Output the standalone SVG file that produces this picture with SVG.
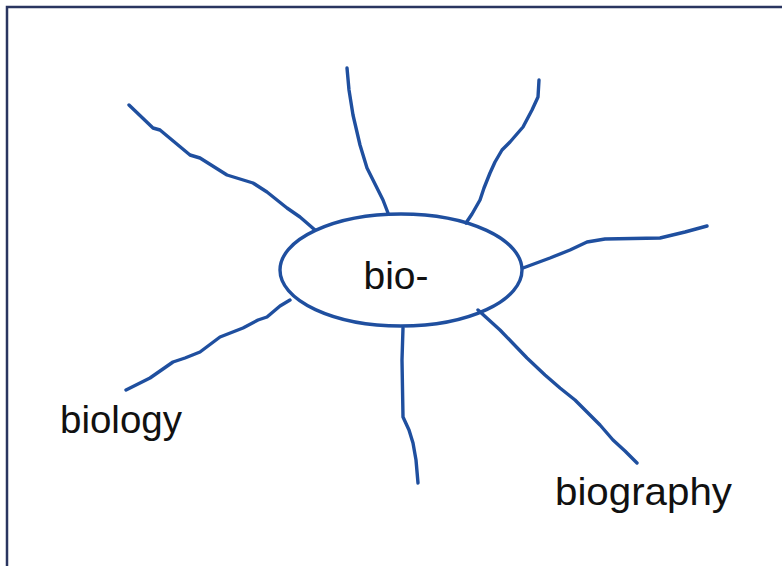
<svg xmlns="http://www.w3.org/2000/svg" width="782" height="566" viewBox="0 0 782 566">
  <style>
    .ln { fill: none; stroke: #1f4f9f; stroke-width: 3.4; stroke-linecap: round; stroke-linejoin: round; }
    .lbl { font-family: "Liberation Sans", "DejaVu Sans", sans-serif; font-size: 39px; fill: #111; }
  </style>
  <rect x="0" y="0" width="782" height="566" fill="#ffffff"/>
  <path d="M7,566 V7 H782" fill="none" stroke="#2a3560" stroke-width="2.5"/>
  <g id="connectors">
    <path class="ln" d="M129,105 L153,128 L160,130 L190,155 L200,158 L227,175 L253,183 L267,192 L287,208 L300,217 L315,230"/>
    <path class="ln" d="M347,68 L349,90 L353,115 L360,145 L367,168 L376,186 L383,200 L388,213"/>
    <path class="ln" d="M539,80 L538,97 L532,110 L523,127 L510,142 L502,150 L495,162 L490,173 L484,188 L480,200 L472,214 L466,223"/>
    <path class="ln" d="M523,268 L550,258 L570,250 L587,242 L605,239 L660,238 L685,232 L707,226"/>
    <path class="ln" d="M126,390 L150,378 L173,362 L185,358 L200,352 L220,337 L243,328 L258,320 L267,317 L280,306 L290,300"/>
    <path class="ln" d="M403,328 L402,360 L403,417 L409,430 L413,443 L416,460 L418,483"/>
    <path class="ln" d="M478,310 L500,330 L527,358 L545,375 L560,388 L575,400 L587,412 L600,425 L613,440 L625,451 L637,463"/>
  </g>
  <g id="bio">
    <ellipse class="ln" cx="401" cy="270" rx="121" ry="56"/>
    <text class="lbl" x="396" y="289" text-anchor="middle">bio-</text>
  </g>
  <g id="biology">
    <text class="lbl" x="60" y="433" textLength="122" lengthAdjust="spacingAndGlyphs">biology</text>
  </g>
  <g id="biography">
    <text class="lbl" x="555" y="505" textLength="177" lengthAdjust="spacingAndGlyphs">biography</text>
  </g>
</svg>
